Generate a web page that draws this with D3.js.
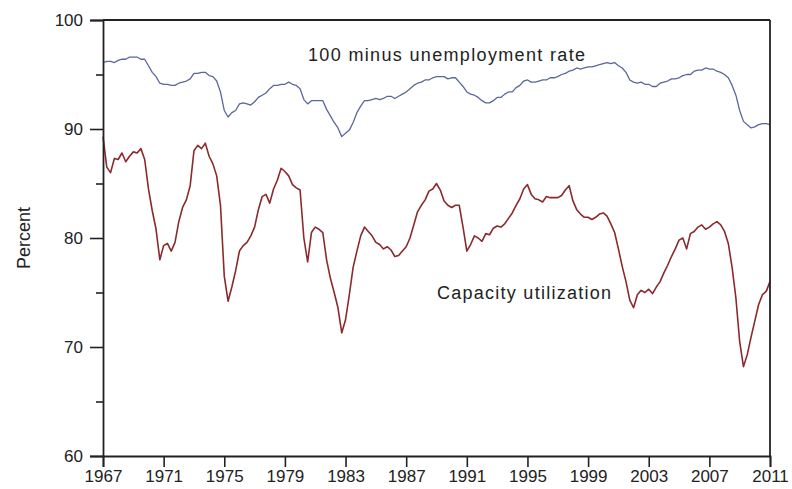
<!DOCTYPE html>
<html>
<head>
<meta charset="utf-8">
<script src="https://cdn.jsdelivr.net/npm/d3@7"></script>
<style>
  body { margin: 0; background: #fff; }
  text { font-family: "Liberation Sans", Arial, sans-serif; fill: #222; }
</style>
</head>
<body>
<svg id="chart"></svg>
<script>
// quarterly readings, first point = 1967 Q1, last point = 2011.0
const startYear = 1967;
const xTicks = [1967, 1971, 1975, 1979, 1983, 1987, 1991, 1995, 1999, 2003, 2007, 2011];
const yTicks = [60, 70, 80, 90, 100];
const yMinorTicks = [65, 75, 85, 95];

const employment = [
  96.1, 96.2, 96.2, 96.1,  96.3, 96.4, 96.4, 96.6,  96.6, 96.6, 96.4, 96.4,
  95.8, 95.2, 94.8, 94.2,  94.1, 94.1, 94.0, 94.0,  94.2, 94.3, 94.4, 94.6,
  95.1, 95.1, 95.2, 95.2,  94.9, 94.8, 94.4, 93.4,  91.7, 91.1, 91.5, 91.7,
  92.3, 92.4, 92.3, 92.2,  92.5, 92.9, 93.1, 93.3,  93.7, 94.0, 94.0, 94.1,
  94.1, 94.3, 94.1, 94.0,  93.7, 92.7, 92.3, 92.6,  92.6, 92.6, 92.6, 91.8,
  91.2, 90.6, 90.1, 89.3,  89.6, 89.9, 90.6, 91.5,  92.1, 92.6, 92.6, 92.7,
  92.8, 92.7, 92.8, 93.0,  93.0, 92.8, 93.0, 93.2,  93.4, 93.7, 94.0, 94.2,
  94.3, 94.5, 94.5, 94.7,  94.8, 94.8, 94.8, 94.6,  94.7, 94.7, 94.3, 93.9,
  93.4, 93.2, 93.1, 92.9,  92.6, 92.4, 92.4, 92.6,  92.9, 92.9, 93.2, 93.4,
  93.4, 93.8, 94.0, 94.4,  94.5, 94.3, 94.3, 94.4,  94.5, 94.5, 94.7, 94.7,
  94.8, 95.0, 95.1, 95.3,  95.4, 95.6, 95.5, 95.6,  95.7, 95.7, 95.8, 95.9,
  96.0, 96.1, 96.0, 96.1,  95.8, 95.6, 95.2, 94.5,  94.3, 94.2, 94.3, 94.1,
  94.1, 93.9, 93.9, 94.2,  94.3, 94.4, 94.6, 94.6,  94.7, 94.9, 95.0, 95.0,
  95.3, 95.4, 95.4, 95.6,  95.5, 95.5, 95.3, 95.2,  95.0, 94.7, 94.0, 93.1,
  91.7, 90.7, 90.4, 90.1,  90.2, 90.4, 90.5, 90.5,  90.4
];

const capacity = [
  89.3, 86.5, 86.0, 87.3,  87.2, 87.8, 87.0, 87.5,  87.9, 87.8, 88.2, 87.2,
  84.5, 82.5, 80.8, 78.0,  79.3, 79.5, 78.8, 79.6,  81.5, 82.8, 83.5, 84.8,
  88.0, 88.5, 88.2, 88.7,  87.5, 86.8, 85.7, 83.0,  76.5, 74.2, 75.5, 77.0,
  78.8, 79.3, 79.6, 80.2,  81.0, 82.6, 83.8, 84.0,  83.2, 84.5, 85.3, 86.4,
  86.1, 85.7, 84.9, 84.6,  84.4, 80.0, 77.8, 80.5,  81.0, 80.8, 80.5, 78.0,
  76.3, 75.0, 73.6, 71.3,  72.5, 74.8, 77.3, 78.8,  80.2, 81.0, 80.6, 80.2,
  79.6, 79.4, 79.0, 79.2,  78.9, 78.3, 78.4, 78.8,  79.2, 80.0, 81.2, 82.4,
  83.0, 83.5, 84.3, 84.5,  85.0, 84.4, 83.4, 83.0,  82.8, 83.0, 83.0, 81.0,
  78.8, 79.4, 80.2, 80.0,  79.7, 80.4, 80.3, 80.9,  81.1, 81.0, 81.3, 81.8,
  82.3, 83.0, 83.6, 84.5,  84.9, 84.0, 83.6, 83.5,  83.3, 83.8, 83.7, 83.7,
  83.7, 83.9, 84.4, 84.8,  83.4, 82.6, 82.2, 81.9,  81.9, 81.7, 81.9, 82.2,
  82.3, 82.0, 81.3, 80.5,  79.0, 77.4, 76.0, 74.3,  73.6, 74.8, 75.2, 75.0,
  75.3, 74.9, 75.5, 76.0,  76.8, 77.5, 78.3, 79.0,  79.8, 80.0, 79.0, 80.4,
  80.6, 81.0, 81.2, 80.8,  81.0, 81.3, 81.5, 81.2,  80.6, 79.5, 77.3, 74.5,
  70.5, 68.2, 69.3, 70.9,  72.4, 73.9, 74.8, 75.1,  76.0
];

const margin = { top: 20, right: 22, bottom: 33, left: 103 };
const width = 792 - margin.left - margin.right;
const height = 489 - margin.top - margin.bottom;

const svg = d3.select("#chart")
  .attr("width", 792)
  .attr("height", 489);

const g = svg.append("g")
  .attr("transform", `translate(${margin.left},${margin.top})`);

const x = d3.scaleLinear().domain([1967, 2011]).range([0, width]);
const y = d3.scaleLinear().domain([60, 100]).range([height, 0]);

const line = d3.line()
  .x((d, i) => x(startYear + i / 4))
  .y(d => y(d));

g.append("path")
  .datum(employment)
  .attr("fill", "none")
  .attr("stroke", "#5a679b")
  .attr("stroke-width", 1.3)
  .attr("stroke-linejoin", "round")
  .attr("d", line);

g.append("path")
  .datum(capacity)
  .attr("fill", "none")
  .attr("stroke", "#8a2a2c")
  .attr("stroke-width", 1.6)
  .attr("stroke-linejoin", "round")
  .attr("d", line);

// frame: top and right edges
g.append("line").attr("x1", 0).attr("x2", width).attr("y1", 0).attr("y2", 0)
  .attr("stroke", "#222").attr("stroke-width", 1.8);
g.append("line").attr("x1", width).attr("x2", width).attr("y1", 0).attr("y2", height)
  .attr("stroke", "#222").attr("stroke-width", 1.8);

// y axis
g.append("g")
  .call(d3.axisLeft(y).tickValues(yTicks).tickSize(13).tickPadding(7).tickFormat(d3.format("d")));
g.append("g")
  .call(d3.axisLeft(y).tickValues(yMinorTicks).tickSize(7).tickFormat(""))
  .select(".domain").remove();

// x axis
g.append("g")
  .attr("transform", `translate(0,${height})`)
  .call(d3.axisBottom(x).tickValues(xTicks).tickSize(11).tickPadding(3).tickFormat(d3.format("d")));

g.selectAll(".domain").attr("stroke", "#222").attr("stroke-width", 1.8);
g.selectAll(".tick line").attr("stroke", "#222").attr("stroke-width", 1.6);
g.selectAll(".tick text").style("font-size", "17px").style("fill", "#222")
  .style("font-family", "'Liberation Sans', Arial, sans-serif");

svg.append("text")
  .attr("transform", "translate(30,238) rotate(-90)")
  .attr("text-anchor", "middle")
  .style("font-size", "18px")
  .text("Percent");

svg.append("text")
  .attr("x", 308).attr("y", 61)
  .attr("textLength", 277).attr("lengthAdjust", "spacing")
  .style("font-size", "18px")
  .text("100 minus unemployment rate");

svg.append("text")
  .attr("x", 437).attr("y", 299)
  .attr("textLength", 174).attr("lengthAdjust", "spacing")
  .style("font-size", "18px")
  .text("Capacity utilization");
</script>
</body>
</html>
